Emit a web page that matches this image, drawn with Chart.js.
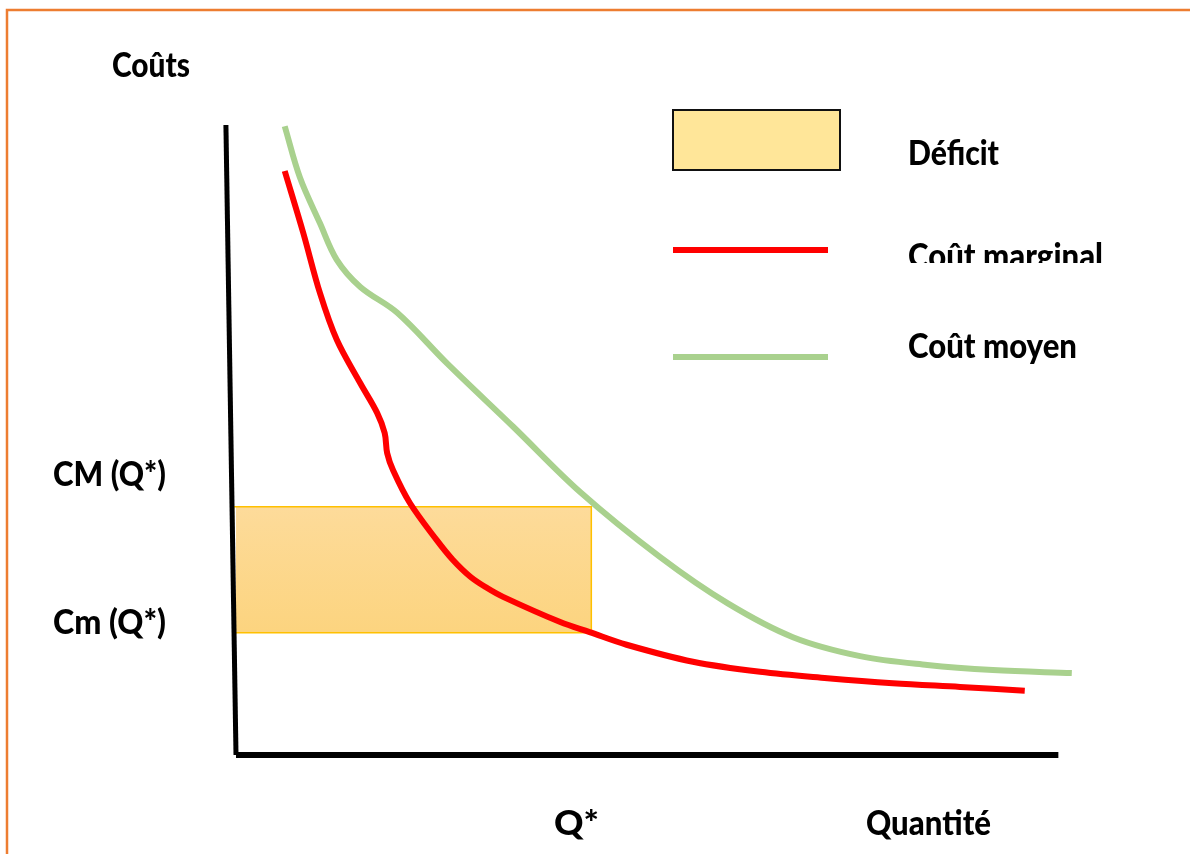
<!DOCTYPE html>
<html>
<head>
<meta charset="utf-8">
<script src="https://cdn.jsdelivr.net/npm/chart.js@4/dist/chart.umd.min.js"></script>
<style>
  body { margin: 0; background: #fff; }
  canvas { display: block; }
</style>
</head>
<body>
<canvas id="chart" width="1190" height="854"></canvas>
<script>
// Courbes (quantité 0-100, coûts 0-100)
const moyenX = [5.8, 7.6, 10.0, 12.0, 14.8, 19.2, 25.1, 33.0, 41.0, 50.5, 58.5, 66.3, 74.3, 82.3, 90.1, 99.5];
const moyenY = [99.8, 91.7, 84.4, 78.6, 74.3, 70.2, 62.2, 52.1, 41.7, 31.4, 24.1, 18.7, 15.7, 14.3, 13.5, 13.0];

const marginalX = [5.8, 8.0, 10.0, 12.0, 14.8, 16.8, 17.7, 18.0, 18.7, 20.7, 23.9, 25.8, 27.9, 29.9, 31.8, 38.6, 42.1, 46.5, 54.4, 62.4, 70.4, 78.2, 86.2, 93.9];
const marginalY = [92.7, 82.9, 73.3, 65.9, 59.0, 54.3, 51.1, 47.9, 45.2, 40.0, 34.1, 31.0, 28.3, 26.5, 25.1, 21.1, 19.5, 17.5, 14.8, 13.2, 12.2, 11.4, 10.8, 10.2];

// Q*, CM(Q*) et Cm(Q*) : bornes du rectangle de déficit
const qStar = 42.3;
const cmHaut = 39.4;  // CM (Q*)
const cmBas = 19.4;   // Cm (Q*)

// axes dessinés à la main (l'axe vertical penche un peu)
const axeYX = [-1.2, 0];
const axeYY = [100, 0];
const axeXX = [0, 97.9];
const axeXY = [0, 0];

const toPoints = (xs, ys) => xs.map((x, i) => ({ x: x, y: ys[i] }));

const deficit = [
  { x: -0.3, y: cmHaut }, { x: qStar, y: cmHaut },
  { x: qStar, y: cmBas }, { x: -0.3, y: cmBas }, { x: -0.3, y: cmHaut }
];

function label(ctx, text, x, baseline, width) {
  ctx.font = '900 35px Lato';
  const w = ctx.measureText(text).width;
  ctx.save();
  ctx.translate(x, baseline);
  ctx.scale(width / w, 1);
  ctx.fillStyle = '#000';
  ctx.textBaseline = 'alphabetic';
  ctx.fillText(text, 0, 0);
  ctx.restore();
}

// cadre, légende et textes
const decor = {
  id: 'decor',
  afterDraw(chart) {
    const ctx = chart.ctx;
    ctx.save();
    ctx.strokeStyle = '#ed7d31';
    ctx.lineWidth = 2.5;
    ctx.beginPath();
    ctx.moveTo(7, 854);
    ctx.lineTo(7, 10);
    ctx.lineTo(1190, 10);
    ctx.stroke();

    // légende
    ctx.fillStyle = '#ffe699';
    ctx.fillRect(673, 110, 167, 60);
    ctx.strokeStyle = '#111';
    ctx.lineWidth = 2;
    ctx.strokeRect(673, 110, 167, 60);
    ctx.lineWidth = 6;
    ctx.strokeStyle = '#ff0000';
    ctx.beginPath(); ctx.moveTo(673, 250); ctx.lineTo(828, 250); ctx.stroke();
    ctx.strokeStyle = '#a9d18e';
    ctx.beginPath(); ctx.moveTo(673, 357); ctx.lineTo(828, 357); ctx.stroke();
    ctx.restore();

    label(ctx, 'Coûts', 112, 77, 78);
    label(ctx, 'Déficit', 908, 165, 91);
    ctx.save();
    ctx.beginPath(); ctx.rect(880, 200, 300, 63); ctx.clip();
    label(ctx, 'Coût marginal', 908, 268, 195);
    ctx.restore();
    label(ctx, 'Coût moyen', 908, 358, 169);
    label(ctx, 'CM (Q*)', 53, 486, 113);
    label(ctx, 'Cm (Q*)', 53, 634, 113);
    label(ctx, 'Q*', 554, 835, 45);
    label(ctx, 'Quantité', 866, 835, 125);
  }
};

const ctx = document.getElementById('chart').getContext('2d');
new Chart(ctx, {
  type: 'line',
  data: {
    datasets: [
      {
        label: 'Coût marginal',
        data: toPoints(marginalX, marginalY),
        borderColor: '#ff0000',
        borderWidth: 6,
        tension: 0.35,
        order: 1
      },
      {
        label: 'Coût moyen',
        data: toPoints(moyenX, moyenY),
        borderColor: '#a9d18e',
        borderWidth: 6,
        tension: 0.35,
        order: 1
      },
      {
        label: 'axe Y',
        data: toPoints(axeYX, axeYY),
        borderColor: '#000',
        borderWidth: 5,
        order: 2
      },
      {
        label: 'axe X',
        data: toPoints(axeXX, axeXY),
        borderColor: '#000',
        borderWidth: 6,
        order: 2
      },
      {
        label: 'Déficit',
        data: deficit,
        borderColor: '#ffc000',
        borderWidth: 1.5,
        fill: 'shape',
        backgroundColor(context) {
          const chart = context.chart;
          const y = chart.scales.y;
          if (!chart.chartArea || !y) return 'rgba(252,212,128,0.9)';
          const g = chart.ctx.createLinearGradient(0, y.getPixelForValue(cmHaut), 0, y.getPixelForValue(cmBas));
          g.addColorStop(0, '#fddb9a');
          g.addColorStop(1, '#fcd47f');
          return g;
        },
        order: 3
      }
    ]
  },
  options: {
    responsive: false,
    animation: false,
    devicePixelRatio: 1,
    layout: { padding: { left: 236, right: 114, top: 125, bottom: 99 } },
    elements: { point: { radius: 0 } },
    datasets: { line: { clip: false } },
    scales: {
      x: { type: 'linear', min: 0, max: 100, display: false },
      y: { type: 'linear', min: 0, max: 100, display: false }
    },
    plugins: {
      legend: { display: false },
      tooltip: { enabled: false }
    }
  },
  plugins: [decor]
});
</script>
</body>
</html>
